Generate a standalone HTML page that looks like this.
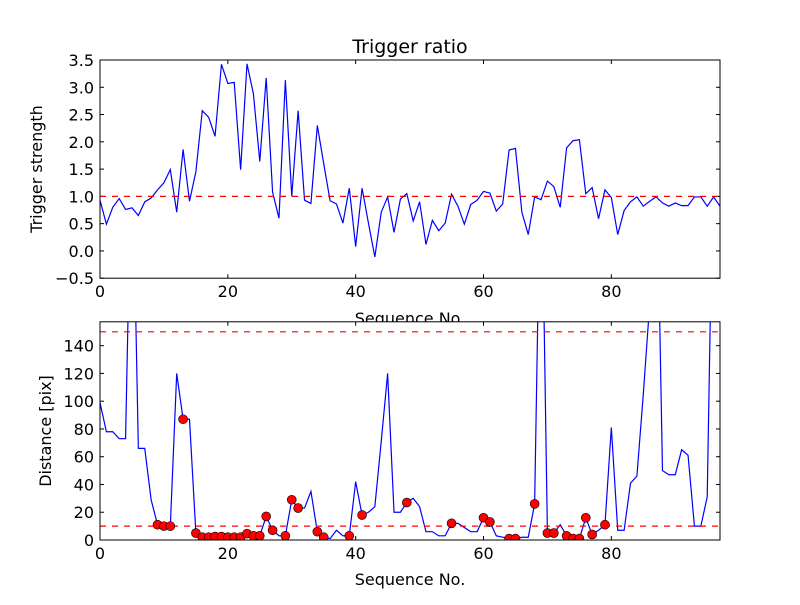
<!DOCTYPE html>
<html><head><meta charset="utf-8"><style>
html,body{margin:0;padding:0;background:#fff;}
svg text{font-family:"DejaVu Sans","Liberation Sans",sans-serif;fill:#000;}
</style></head><body>
<svg id="fig" width="800" height="600" xmlns="http://www.w3.org/2000/svg">
<rect width="800" height="600" fill="#fff"/>
</svg>
<script>
const ratio = [0.93,0.49,0.80,0.96,0.76,0.79,0.65,0.90,0.97,1.12,1.25,1.49,0.71,1.86,0.91,1.45,2.57,2.45,2.10,3.42,3.07,3.09,1.49,3.43,2.88,1.64,3.17,1.08,0.60,3.13,1.00,2.57,0.93,0.87,2.30,1.60,0.92,0.86,0.51,1.15,0.08,1.15,0.51,-0.11,0.71,0.99,0.34,0.95,1.05,0.55,0.90,0.12,0.56,0.37,0.51,1.04,0.82,0.49,0.85,0.93,1.09,1.06,0.73,0.86,1.85,1.88,0.71,0.30,0.99,0.94,1.28,1.18,0.80,1.89,2.02,2.04,1.05,1.16,0.59,1.12,0.98,0.30,0.74,0.90,0.99,0.82,0.91,0.99,0.88,0.82,0.88,0.83,0.83,0.99,0.99,0.82,0.99,0.82];
const dist = [99,78,78,73,73,300,66,66,29,11,10,10,120,87,87,5,2,2,2.5,2.5,2,2,2,4.6,3,3,17,7,3,3,29,23,23,35,6,2,1,7,3,3,42,18,20,24,71,120,20,20,27,30,24,6,6,3,3,12,12,9,6,6,16,13,3,2,1,1,2,2,26,300,5,5,11,3,1,1,16,4,7,11,81,7,7,41,46,105,170,300,50,47,47,65,61,10,10,31,300,300];
const markerIdx = [9,10,11,13,15,16,17,18,19,20,21,22,23,24,25,26,27,29,30,31,34,35,39,41,48,55,60,61,64,65,68,70,71,73,74,75,76,77,79];
const xTicks = [0,20,40,60,80];
const yTicksTop = [-0.5,0,0.5,1,1.5,2,2.5,3,3.5];
const yTicksBot = [0,20,40,60,80,100,120,140];
const thrTop = [1.0];
const thrBot = [10,150];

const NS="http://www.w3.org/2000/svg";
const svg=document.getElementById('fig');
function mk(tag,attrs,parent){const e=document.createElementNS(NS,tag);for(const k in attrs)e.setAttribute(k,attrs[k]);(parent||svg).appendChild(e);return e;}
const L=100,R=720,xmax=97;
const xs=v=>L+(v/xmax)*(R-L);
const topT=60,topB=278.2,botT=321.8,botB=540;
const ysTop=v=>topB-(v+0.5)/4*(topB-topT);
const botMax=157.2;
const ysBot=v=>botB-v/botMax*(botB-botT);

// Title
let t=mk('text',{x:410,y:53,'font-size':19,'text-anchor':'middle'});t.textContent='Trigger ratio';



function axes(T,B,ys,yTicks,fmt,name){
  const g=mk('g',{});
  
  
  mk('rect',{x:L,y:T,width:R-L,height:B-T,fill:'#fff'},g);
  const cp=mk('clipPath',{id:'cp'+name},g);
  mk('rect',{x:L,y:T,width:R-L,height:B-T},cp);
  for(const v of xTicks){
    const x=xs(v);
    mk('line',{x1:x,y1:B,x2:x,y2:B-4,stroke:'#000','stroke-width':1},g);
    mk('line',{x1:x,y1:T,x2:x,y2:T+4,stroke:'#000','stroke-width':1},g);
    const tx=mk('text',{x:x,y:B+19,'font-size':16,'text-anchor':'middle'},g);tx.textContent=v;
    
    
  }
  for(const v of yTicks){
    const y=ys(v);
    mk('line',{x1:L,y1:y,x2:L+4,y2:y,stroke:'#000','stroke-width':1},g);
    mk('line',{x1:R,y1:y,x2:R-4,y2:y,stroke:'#000','stroke-width':1},g);
    const ty=mk('text',{x:L-6,y:y+6,'font-size':16,'text-anchor':'end'},g);ty.textContent=fmt(v);
    
    
  }
  return {g,clip:'url(#cp'+name+')'};
}

// top axes
const A1=axes(topT,topB,ysTop,yTicksTop,v=>v.toFixed(1).replace('-','\u2212'),'top-axes');
const pl1=mk('polyline',{points:ratio.map((v,i)=>xs(i)+','+ysTop(v)).join(' '),fill:'none',stroke:'#0000ff','stroke-width':1.2,'clip-path':A1.clip},A1.g);


for(const v of thrTop){
  const l=mk('line',{x1:L,x2:R,y1:ysTop(v),y2:ysTop(v),stroke:'#ff0000','stroke-width':1.2,'stroke-dasharray':'6,6'},A1.g);
  
  
}
mk('rect',{x:L,y:topT,width:R-L,height:topB-topT,fill:'none',stroke:'#000','stroke-width':1},A1.g);
let yl1=mk('text',{x:0,y:0,'font-size':16,'text-anchor':'middle',transform:'translate(42,169) rotate(-90)'});yl1.textContent='Trigger strength';


let xl1=mk('text',{x:410,y:324,'font-size':16,'text-anchor':'middle'});xl1.textContent='Sequence No.';



// bottom axes
const A2=axes(botT,botB,ysBot,yTicksBot,v=>String(v),'bottom-axes');
const pl2=mk('polyline',{points:dist.map((v,i)=>xs(i)+','+ysBot(v)).join(' '),fill:'none',stroke:'#0000ff','stroke-width':1.2,'clip-path':A2.clip},A2.g);


for(const v of thrBot){
  const l=mk('line',{x1:L,x2:R,y1:ysBot(v),y2:ysBot(v),stroke:'#ff0000','stroke-width':1.2,'stroke-dasharray':'6,6'},A2.g);
  
  
}
for(const i of markerIdx){
  const c=mk('circle',{cx:xs(i),cy:ysBot(dist[i]),r:4.5,fill:'#ff0000',stroke:'#000','stroke-width':0.6,'clip-path':A2.clip},A2.g);
  
  
}
mk('rect',{x:L,y:botT,width:R-L,height:botB-botT,fill:'none',stroke:'#000','stroke-width':1},A2.g);
// redraw top x-axis title? (it is covered by bottom axes in reference)
let yl2=mk('text',{x:0,y:0,'font-size':16,'text-anchor':'middle',transform:'translate(51,431) rotate(-90)'});yl2.textContent='Distance [pix]';


let xl2=mk('text',{x:410,y:585,'font-size':16,'text-anchor':'middle'});xl2.textContent='Sequence No.';


</script>
</body></html>
